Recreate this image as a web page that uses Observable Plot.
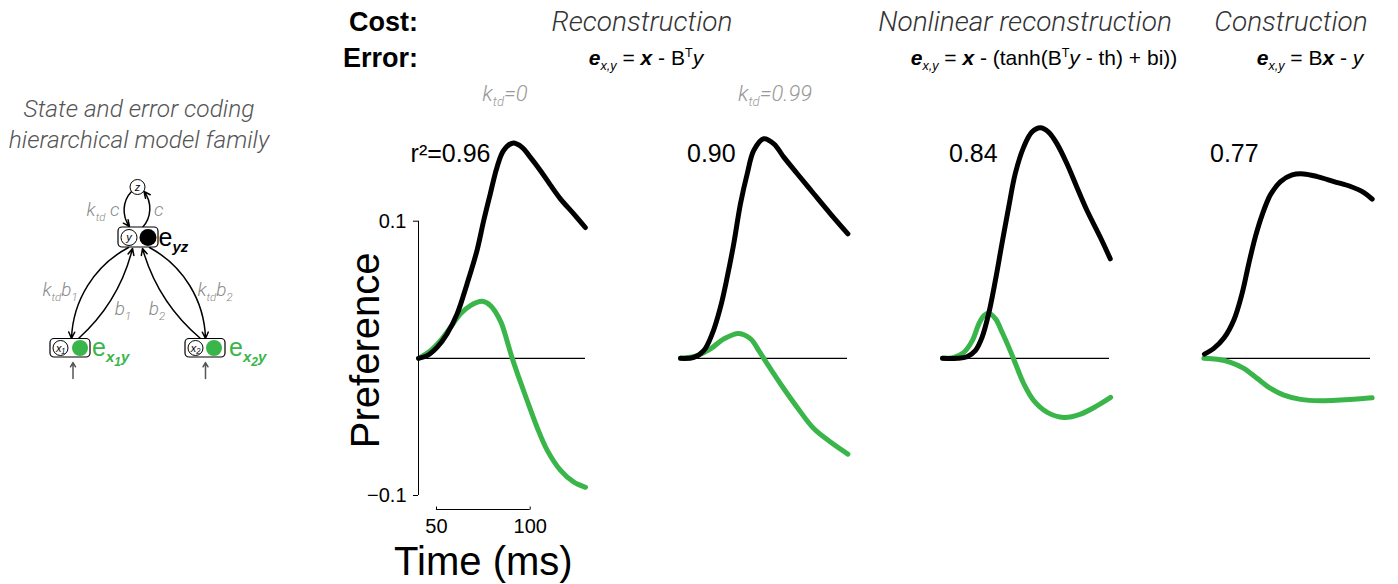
<!DOCTYPE html>
<html>
<head>
<meta charset="utf-8">
<script src="https://cdn.jsdelivr.net/npm/d3@7"></script>
<script src="https://cdn.jsdelivr.net/npm/@observablehq/plot@0.6"></script>
<style>
  html, body { margin: 0; padding: 0; background: #fff; }
  #fig { position: relative; width: 1398px; height: 584px; overflow: hidden; background: #fff;
         font-family: "Liberation Sans", "Helvetica Neue", Helvetica, Arial, sans-serif; color: #000; }
  .lbl { position: absolute; white-space: nowrap; line-height: 1; }
  .light { font-family: Roboto, Lato, "Liberation Sans", sans-serif; font-weight: 300; font-style: italic; }
  .lbl sub, .lbl sup { line-height: 0; font-size: 0.6em; }
  .lbl sub sub { font-size: 0.8em; }
  .plotbox { position: absolute; top: 0; }
</style>
</head>
<body>
<div id="fig"></div>
<script>
// ---------------- data ----------------
const panelNames = ["Reconstruction k_td=0", "Reconstruction k_td=0.99", "Nonlinear reconstruction", "Construction"];
const r2Labels = ["r²=0.96", "0.90", "0.84", "0.77"];
const costTitles = ["Reconstruction", "Nonlinear reconstruction", "Construction"];
const ktdValues = ["0", "0.99"];
const yTicks = [-0.1, 0.1];
const xTicks = [50, 100];
const timeDomain = [40.4, 129.5];
const yLabel = "Preference";
const xLabel = "Time (ms)";
const diagramTitle = ["State and error coding", "hierarchical model family"];

// Panel 1: Reconstruction, k_td = 0
const stateTime1 = [40.4, 45.0, 50.3, 55.6, 61.0, 66.3, 71.6, 75.2, 78.7, 82.3, 85.8, 90.6, 95.6, 100.0, 105.4, 110.7, 116.0, 123.1, 129.4];
const stateValue1 = [0, 0.002, 0.008, 0.0178, 0.0324, 0.0543, 0.0786, 0.1005, 0.12, 0.1394, 0.1516, 0.1569, 0.154, 0.1467, 0.137, 0.1265, 0.1165, 0.1055, 0.0954];
const errorTime1 = [40.4, 46.8, 52.1, 57.5, 62.8, 68.1, 74.4, 78.8, 84.2, 87.7, 90.4, 93.9, 98.4, 103.7, 109.1, 116.2, 123.3, 129.5];
const errorValue1 = [0, 0.0056, 0.0129, 0.0226, 0.0324, 0.0385, 0.0416, 0.0385, 0.027, 0.0125, 0, -0.0139, -0.0309, -0.0504, -0.0671, -0.0817, -0.0903, -0.094];

// Panel 2: Reconstruction, k_td = 0.99
const stateTime2 = [40.4, 47.5, 52.8, 57.3, 61.7, 65.3, 68.8, 72.4, 76.0, 79.5, 84.8, 90.2, 95.5, 102.7, 111.5, 120.4, 129.7];
const stateValue2 = [0, 0.0007, 0.0056, 0.0178, 0.0372, 0.0591, 0.0835, 0.1127, 0.1346, 0.1516, 0.1601, 0.1564, 0.1467, 0.1346, 0.12, 0.1054, 0.0908];
const errorTime2 = [40.4, 49.3, 56.4, 63.5, 71.5, 77.8, 82.2, 86.7, 93.8, 102.7, 111.5, 120.4, 129.7];
const errorValue2 = [0, 0.002, 0.0069, 0.0142, 0.0182, 0.0142, 0.0056, -0.0041, -0.0187, -0.0358, -0.0512, -0.061, -0.0698];

// Panel 3: Nonlinear reconstruction
const stateTime3 = [40.4, 48.2, 53.5, 57.9, 61.5, 65.0, 68.6, 72.1, 75.7, 79.2, 83.7, 88.1, 92.6, 97.0, 101.5, 106.8, 112.1, 117.5, 124.6, 129.9];
const stateValue3 = [0, 0, 0.0012, 0.0056, 0.0153, 0.0324, 0.0567, 0.0835, 0.1102, 0.1346, 0.154, 0.165, 0.1682, 0.165, 0.1564, 0.1419, 0.1248, 0.1078, 0.0883, 0.0726];
const errorTime3 = [40.4, 46.4, 51.8, 56.3, 59.8, 62.5, 65.1, 68.7, 72.2, 75.8, 79.4, 83.8, 89.1, 96.3, 105.2, 114.1, 123.0, 130.1];
const errorValue3 = [0, 0.0007, 0.0044, 0.0129, 0.0251, 0.0311, 0.0328, 0.0288, 0.019, 0.008, -0.0041, -0.0187, -0.0309, -0.0394, -0.0431, -0.0406, -0.0345, -0.0285];

// Panel 4: Construction
const stateTime4 = [40.9, 45.9, 51.2, 56.6, 61.0, 64.6, 68.1, 71.7, 76.1, 81.5, 87.7, 93.9, 101.1, 110.0, 118.9, 126.0, 130.4];
const stateValue4 = [0.0031, 0.0073, 0.0146, 0.028, 0.0474, 0.0693, 0.0887, 0.1046, 0.1192, 0.1289, 0.1338, 0.1345, 0.1325, 0.1289, 0.1253, 0.1209, 0.1161];
const errorTime4 = [40.6, 47.7, 54.8, 61.9, 69.0, 76.2, 83.3, 92.2, 102.8, 113.5, 124.2, 130.4];
const errorValue4 = [0, -0.0007, -0.0029, -0.0073, -0.0146, -0.0219, -0.0268, -0.0299, -0.0309, -0.0304, -0.0295, -0.0288];

// Schematic of the model (diagram units = page pixels)
const diagramBoxes = [
  {name: "y", x1: 118, x2: 158, y1: 227, y2: 247},
  {name: "x1", x1: 50, x2: 90, y1: 338.5, y2: 357},
  {name: "x2", x1: 185, x2: 225, y1: 338.5, y2: 357}
];
const stateNodes = [
  {label: "z", x: 137, y: 186.5, r: 7.5},
  {label: "y", x: 128.5, y: 237, r: 8},
  {label: "x₁", x: 60, y: 347.5, r: 7.5},
  {label: "x₂", x: 195, y: 347.5, r: 7.5}
];
const errorNodes = [
  {x: 147.5, y: 237, r: 8.5, kind: "yz"},
  {x: 79.5, y: 347.5, r: 8, kind: "x1y"},
  {x: 213.5, y: 347.5, r: 8, kind: "x2y"}
];
const diagramArrows = [
  {x1: 131, y1: 191, x2: 129, y2: 226, bend: -40},
  {x1: 142, y1: 227, x2: 143.5, y2: 191, bend: -40},
  {x1: 128, y1: 247, x2: 71, y2: 338, bend: -30},
  {x1: 78, y1: 338, x2: 132, y2: 248, bend: -17},
  {x1: 200, y1: 338, x2: 142, y2: 248, bend: 17},
  {x1: 149, y1: 247, x2: 205, y2: 338, bend: 30}
];
const inputArrows = [
  {x1: 72.5, y1: 378, x2: 72.5, y2: 362},
  {x1: 205, y1: 378, x2: 205, y2: 362}
];
const errorFormulas = [
  `<b><i>e</i></b><sub><i>x,y</i></sub> = <b><i>x</i></b> - B<sup>T</sup><i>y</i>`,
  `<b><i>e</i></b><sub><i>x,y</i></sub> = <b><i>x</i></b> - (tanh(B<sup>T</sup><i>y</i> - th) + bi))`,
  `<b><i>e</i></b><sub><i>x,y</i></sub> = B<b><i>x</i></b> - <i>y</i>`
];

// ---------------- layout / styles ----------------
const green = "#39b54a";
const fig = document.getElementById("fig");
const panelLeft = [418, 680, 942, 1203];
const frameWidth = 167, padLeft = 100, padRight = 14;
const svgStyle = "background: transparent; overflow: visible; color: #000; font-family: 'Liberation Sans', Helvetica, Arial, sans-serif; font-size: 20px;";
const tickUp = {draw(context) { context.moveTo(0, 0); context.lineTo(0, -3); }};

function addLabel(html, x, baseline, size, opts = {}) {
  const {anchor = "start", cls = "", color = "#000"} = opts;
  const d = document.createElement("div");
  d.className = "lbl " + cls;
  d.innerHTML = html;
  d.style.cssText += `font-size:${size}px;left:${x}px;top:${baseline - 0.85 * size}px;color:${color};`;
  if (anchor === "middle") d.style.transform = "translateX(-50%)";
  if (anchor === "end") d.style.transform = "translateX(-100%)";
  fig.appendChild(d);
}

const stateTimes = [stateTime1, stateTime2, stateTime3, stateTime4];
const stateValues = [stateValue1, stateValue2, stateValue3, stateValue4];
const errorTimes = [errorTime1, errorTime2, errorTime3, errorTime4];
const errorValues = [errorValue1, errorValue2, errorValue3, errorValue4];
const fmtY = d => (d < 0 ? "\u2212" + Math.abs(d) : String(d));

panelNames.forEach((name, i) => {
  const state = stateTimes[i].map((t, j) => ({panel: name, t, v: stateValues[i][j]}));
  const error = errorTimes[i].map((t, j) => ({panel: name, t, v: errorValues[i][j]}));
  const first = i === 0;
  const marks = [
    Plot.ruleY([0], {stroke: "#000", strokeWidth: 1.3}),
    Plot.line(error, {x: "t", y: "v", stroke: green, strokeWidth: 5, curve: "catmull-rom"}),
    Plot.line(state, {x: "t", y: "v", stroke: "#000", strokeWidth: 5, curve: "catmull-rom"}),
    Plot.text([r2Labels[i]], {text: d => d, frameAnchor: "top-left", textAnchor: first ? "end" : "start",
      lineAnchor: "middle", dx: first ? 72 : 6.5, dy: -67, fontSize: 25})
  ];
  if (first) {
    marks.push(
      Plot.ruleX([stateTimes[0][0]], {y1: yTicks[0], y2: yTicks[1], stroke: "#000", strokeWidth: 1}),
      Plot.axisY(yTicks, {tickSize: 5, tickPadding: 7, tickFormat: fmtY, fontSize: 20, label: null}),
      Plot.text([yLabel], {text: d => d, frameAnchor: "left", textAnchor: "middle", lineAnchor: "middle",
        rotate: -90, dx: -52, dy: -8, fontSize: 40}),
      Plot.ruleY([yTicks[0]], {x1: xTicks[0], x2: xTicks[1], dy: 14, stroke: "#000", strokeWidth: 1}),
      Plot.dot(xTicks, {x: d => d, y: yTicks[0], dy: 14, symbol: tickUp, stroke: "#000", strokeWidth: 1, fill: "none"}),
      Plot.text(xTicks, {x: d => d, text: d => String(d), frameAnchor: "bottom", lineAnchor: "middle", dy: 31, fontSize: 20}),
      Plot.text([xLabel], {x: (xTicks[0] + xTicks[1]) / 2, text: d => d, frameAnchor: "bottom", lineAnchor: "middle", dy: 67, fontSize: 40})
    );
  }
  const plot = Plot.plot({
    width: padLeft + frameWidth + padRight, height: 584,
    marginLeft: padLeft, marginRight: padRight, marginTop: 220.7, marginBottom: 89,
    x: {domain: timeDomain, axis: null},
    y: first ? {domain: yTicks} : {domain: yTicks, axis: null},
    style: svgStyle,
    marks
  });
  const box = document.createElement("div");
  box.className = "plotbox";
  box.style.left = (panelLeft[i] - padLeft) + "px";
  box.appendChild(plot);
  fig.appendChild(box);
});

// ---------------- diagram ----------------
const diagram = Plot.plot({
  width: 300, height: 420, margin: 0,
  x: {domain: [0, 300], range: [0, 300], axis: null},
  y: {domain: [0, 420], range: [0, 420], axis: null},
  r: {type: "identity"},
  style: svgStyle,
  marks: [
    ...diagramArrows.map(a => Plot.arrow([a], {x1: "x1", y1: "y1", x2: "x2", y2: "y2", bend: a.bend,
      stroke: "#000", strokeWidth: 1.5, headLength: 7, headAngle: 50})),
    Plot.arrow(inputArrows, {x1: "x1", y1: "y1", x2: "x2", y2: "y2", stroke: "#555", strokeWidth: 1.5, headLength: 5, headAngle: 60}),
    Plot.rect(diagramBoxes, {x1: "x1", x2: "x2", y1: "y1", y2: "y2", rx: 4, fill: "#fff", stroke: "#000", strokeWidth: 1.2}),
    Plot.dot(stateNodes, {x: "x", y: "y", r: "r", fill: "#fff", stroke: "#000", strokeWidth: 1}),
    Plot.text(stateNodes, {x: "x", y: "y", text: "label", fontSize: 11, fontStyle: "italic"}),
    Plot.dot(errorNodes, {x: "x", y: "y", r: "r", fill: d => d.kind === "yz" ? "#000" : green})
  ]
});
const dbox = document.createElement("div");
dbox.className = "plotbox";
dbox.style.left = "0px";
dbox.appendChild(diagram);
fig.appendChild(dbox);

// ---------------- text ----------------
addLabel(diagramTitle[0], 139, 118, 24.5, {anchor: "middle", cls: "light", color: "#555"});
addLabel(diagramTitle[1], 139, 149, 24.5, {anchor: "middle", cls: "light", color: "#555"});
const grey = "#8a8a8a";
addLabel("k<sub>td</sub> c", 103, 216, 19, {anchor: "middle", cls: "light", color: grey});
addLabel("c", 154, 216, 19, {cls: "light", color: grey});
addLabel("k<sub>td</sub>b<sub>1</sub>", 60, 296, 19, {anchor: "middle", cls: "light", color: grey});
addLabel("b<sub>1</sub>", 123, 315, 19, {anchor: "middle", cls: "light", color: grey});
addLabel("b<sub>2</sub>", 157, 315, 19, {anchor: "middle", cls: "light", color: grey});
addLabel("k<sub>td</sub>b<sub>2</sub>", 215, 296, 19, {anchor: "middle", cls: "light", color: grey});
addLabel("e<sub style='font-weight:bold;font-style:italic;font-size:0.6em'>yz</sub>", 158.5, 246.5, 25, {});
addLabel("e<sub style='font-weight:bold;font-style:italic;font-size:0.6em'>x<sub>1</sub>y</sub>", 92, 356.5, 25, {color: green});
addLabel("e<sub style='font-weight:bold;font-style:italic;font-size:0.6em'>x<sub>2</sub>y</sub>", 229, 356.5, 25, {color: green});

addLabel("<b>Cost:</b>", 418, 31.5, 27, {anchor: "end"});
addLabel("<b>Error:</b>", 418, 68.3, 27, {anchor: "end"});
const costCenters = [642, 1025, 1291];
costTitles.forEach((t, i) => addLabel(t, costCenters[i], 31.5, 28, {anchor: "middle", cls: "light", color: "#333"}));
const formulaCenters = [646, 1044, 1310];
errorFormulas.forEach((f, i) => addLabel(f, formulaCenters[i], 65, 21, {anchor: "middle"}));
const ktdCenters = [505, 775];
ktdValues.forEach((v, i) => addLabel(`k<sub>td</sub>=${v}`, ktdCenters[i], 102, 22, {anchor: "middle", cls: "light", color: "#999"}));
</script>
</body>
</html>
